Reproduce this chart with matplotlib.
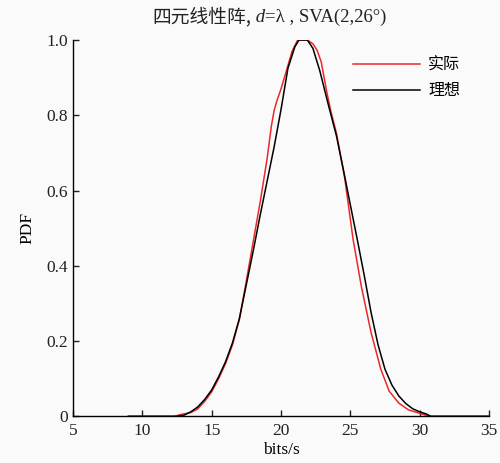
import matplotlib
matplotlib.use("Agg")
import matplotlib.pyplot as plt

plt.rcParams['font.family'] = ['Liberation Serif', 'Noto Sans CJK SC']

# ideal (black) curve
x_ideal = [9, 12.5, 13.0, 13.5, 14.0, 14.5, 15.0, 15.5, 16.0, 16.5, 17.0, 17.5,
           18.0, 18.5, 19.0, 19.5, 20.0, 20.5, 21.0, 21.3, 21.6, 21.9, 22.3,
           22.8, 23.4, 24.0, 24.5, 25.0, 25.5, 26.0, 26.5, 27.0, 27.5, 28.0,
           28.5, 29.0, 29.5, 30.0, 30.5, 30.8, 35]
y_ideal = [0, 0, 0.003, 0.012, 0.025, 0.045, 0.07, 0.105, 0.145, 0.195, 0.26, 0.35,
           0.44, 0.535, 0.625, 0.715, 0.815, 0.925, 0.982, 1.0, 1.0, 1.0, 0.978,
           0.918, 0.83, 0.745, 0.655, 0.562, 0.47, 0.375, 0.275, 0.19, 0.125, 0.083,
           0.054, 0.034, 0.02, 0.012, 0.006, 0.0, 0]

# actual (red) curve
x_actual = [9, 12.3, 12.8, 13.5, 14.0, 14.5, 15.0, 15.5, 16.0, 16.5, 17.0, 17.5,
            18.0, 18.5, 19.0, 19.3, 19.5, 19.7, 20.0, 20.3, 20.8, 21.2, 21.9, 22.3,
            22.6, 22.9, 23.3, 23.6, 24.0, 24.6, 25.2, 25.8, 26.5, 27.2, 27.8,
            28.5, 29.2, 30.0, 30.7, 35]
y_actual = [0, 0, 0.005, 0.01, 0.02, 0.04, 0.065, 0.10, 0.14, 0.19, 0.258, 0.36,
            0.465, 0.57, 0.685, 0.77, 0.812, 0.838, 0.87, 0.907, 0.97, 1.0, 1.0, 0.99,
            0.973, 0.942, 0.862, 0.81, 0.752, 0.632, 0.47, 0.344, 0.222, 0.125, 0.067,
            0.035, 0.017, 0.008, 0, 0]

x_ticks = [5, 10, 15, 20, 25, 30, 35]
y_ticks = [0, 0.2, 0.4, 0.6, 0.8, 1.0]
y_ticklabels = ['0', '0.2', '0.4', '0.6', '0.8', '1.0']

fig = plt.figure(figsize=(5, 4.63), dpi=100, facecolor='#fafafa')
ax = fig.add_axes([0.146, 0.1008, 0.832, 0.8128], facecolor='#fafafa')

ax.plot(x_actual, y_actual, color='#ec2828', lw=1.1, label='实际')
ax.plot(x_ideal, y_ideal, color='black', lw=1.1, label='理想')

ax.set_xlim(5, 35)
ax.set_ylim(0, 1.0)
ax.set_xticks(x_ticks)
ax.set_yticks(y_ticks)
ax.set_yticklabels(y_ticklabels)
for s in ['top', 'right']:
    ax.spines[s].set_visible(False)
for s in ['left', 'bottom']:
    ax.spines[s].set_linewidth(1.0)
ax.tick_params(direction='in', length=4, width=1.0, labelsize=12.5, colors='#222222')
ax.tick_params(axis='x', pad=5)
ax.set_xlabel('bits/s', fontsize=12.5, labelpad=2)
ax.set_ylabel('PDF', fontsize=12.5, labelpad=8)

ax.legend(loc='upper left', bbox_to_anchor=(0.639, 0.994), frameon=False,
          handlelength=4.2, handletextpad=0.5, labelspacing=0.55,
          prop={'family': ['Noto Sans CJK SC'], 'size': 11.5})

# title in pieces so that d can be italic
renderer = fig.canvas.get_renderer()
pieces = [('四元线性阵,', 'normal', ['Noto Sans CJK SC']),
          (' d', 'italic', ['Liberation Serif']),
          ('=λ , SVA(2,26°)', 'normal', ['Liberation Serif', 'DejaVu Sans'])]
xpos = 152 / 500
for txt, style, fam in pieces:
    t = fig.text(xpos, 1 - 17 / 463, txt, fontsize=13.5, style=style,
                 family=fam, va='center', ha='left', color='#222222')
    bb = t.get_window_extent(renderer=renderer)
    xpos += bb.width / fig.bbox.width

fig.savefig('out.png', dpi=100, facecolor=fig.get_facecolor())
